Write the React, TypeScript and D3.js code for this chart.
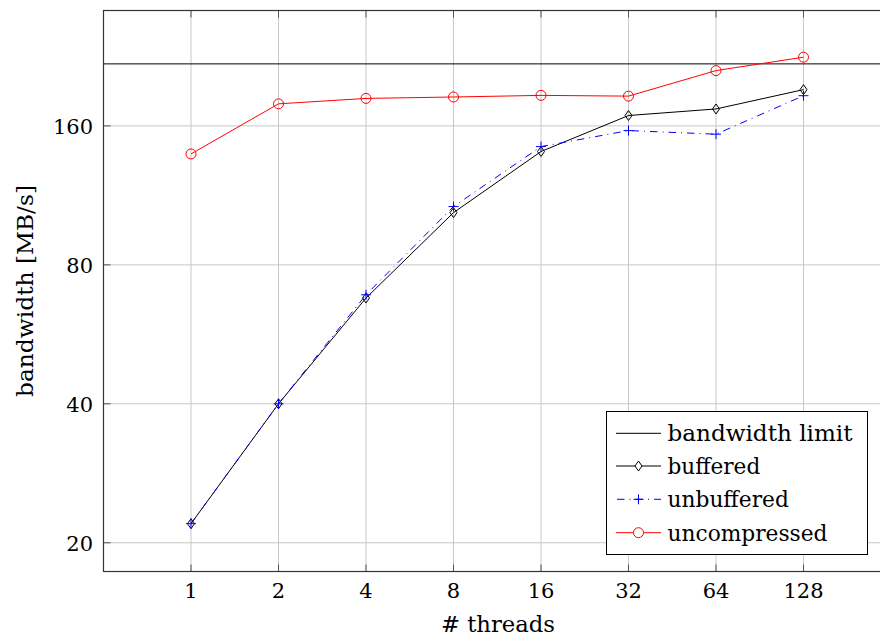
import React from "react";
import * as d3 from "d3";

const threads = [1, 2, 4, 8, 16, 32, 64, 128];
const xTickLabels = ["1", "2", "4", "8", "16", "32", "64", "128"];
const yTicks = [20, 40, 80, 160];
const bandwidthLimit = 218;
const buffered = [22.0, 40, 67.8, 103.8, 140.8, 168.5, 174.1, 191.7];
const unbuffered = [22.0, 40, 68.9, 107.0, 144.3, 156.3, 153.5, 186.0];
const uncompressed = [139.1, 178.6, 183.5, 184.8, 186.3, 185.6, 210.8, 225.4];

const W = 880;
const H = 638;
const FONT = "DejaVu Serif, Liberation Serif, serif";

export default function App() {
  const left = 103.5, right = 891, top = 10.5, bottom = 571.5;
  const x = d3.scaleLog().base(2).domain([0.5, 256]).range([left, right]);
  const y = d3.scaleLog().base(2).domain([17.33, 284.5]).range([bottom, top]);

  const line = d3
    .line<number>()
    .x((_, i) => x(threads[i]))
    .y((d) => y(d));

  const diamond = (cx: number, cy: number) =>
    `M${cx},${cy - 5}L${cx + 3.5},${cy}L${cx},${cy + 5}L${cx - 3.5},${cy}Z`;
  const plus = (cx: number, cy: number) =>
    `M${cx - 5},${cy}L${cx + 5},${cy}M${cx},${cy - 5}L${cx},${cy + 5}`;

  const legendX = 606.5, legendY = 411.5, legendW = 261, legendH = 143;
  const rows = [433.3, 466, 499.3, 532.7];
  const sx0 = 616, sx1 = 661, smid = 638.5, tx = 667.5;
  const ts = { fontFamily: FONT } as React.CSSProperties;

  return (
    <svg
      width={W}
      height={H}
      style={{ position: "absolute", left: 0, top: 0, background: "#fff" }}
    >
      <defs>
        <clipPath id="plotclip">
          <rect x={left} y={top} width={right - left} height={bottom - top} />
        </clipPath>
      </defs>
      {/* grid */}
      <g stroke="#c8c8c8" strokeWidth={1}>
        {threads.map((t) => (
          <line key={"gx" + t} x1={x(t)} x2={x(t)} y1={top} y2={bottom} />
        ))}
        {yTicks.map((v) => (
          <line key={"gy" + v} x1={left} x2={right} y1={y(v)} y2={y(v)} />
        ))}
      </g>
      {/* ticks */}
      <g stroke="#555" strokeWidth={1}>
        {threads.map((t) => (
          <g key={"tx" + t}>
            <line x1={x(t)} x2={x(t)} y1={bottom} y2={bottom - 7} />
            <line x1={x(t)} x2={x(t)} y1={top} y2={top + 7} />
          </g>
        ))}
        {yTicks.map((v) => (
          <g key={"ty" + v}>
            <line x1={left} x2={left + 7} y1={y(v)} y2={y(v)} />
            <line x1={right} x2={right - 7} y1={y(v)} y2={y(v)} />
          </g>
        ))}
      </g>
      <g clipPath="url(#plotclip)" fill="none">
        <line
          x1={left}
          x2={right}
          y1={y(bandwidthLimit)}
          y2={y(bandwidthLimit)}
          stroke="#000"
          strokeWidth={1}
        />
        <path d={line(uncompressed) || ""} stroke="#ff0000" strokeWidth={1} />
        {uncompressed.map((v, i) => (
          <circle key={"c" + i} cx={x(threads[i])} cy={y(v)} r={5} stroke="#ff0000" strokeWidth={1} />
        ))}
        <path d={line(buffered) || ""} stroke="#000" strokeWidth={1} />
        {buffered.map((v, i) => (
          <path key={"d" + i} d={diamond(x(threads[i]), y(v))} stroke="#000" strokeWidth={1} fill="none" />
        ))}
        <path
          d={line(unbuffered) || ""}
          stroke="#0000ff"
          strokeWidth={1}
          strokeDasharray="7.5 5 1 5"
        />
        {unbuffered.map((v, i) => (
          <path key={"p" + i} d={plus(x(threads[i]), y(v))} stroke="#0000ff" strokeWidth={1} />
        ))}
      </g>
      {/* frame */}
      <rect
        x={left}
        y={top}
        width={right - left}
        height={bottom - top}
        fill="none"
        stroke="#333"
        strokeWidth={1.2}
      />
      {/* tick labels */}
      <g fontSize={21} fill="#000">
        {threads.map((t, i) => (
          <text key={"lx" + t} style={ts} x={x(t)} y={598} textAnchor="middle">
            {xTickLabels[i]}
          </text>
        ))}
        {yTicks.map((v) => (
          <text key={"ly" + v} style={ts} x={93} y={y(v) + 8} textAnchor="end">
            {v}
          </text>
        ))}
      </g>
      {/* axis labels */}
      <text style={ts} x={498} y={632} fontSize={23} textAnchor="middle" textLength={114} lengthAdjust="spacingAndGlyphs">
        # threads
      </text>
      <text
        style={ts}
        transform={`translate(33,291) rotate(-90)`}
        fontSize={23}
        textAnchor="middle"
        textLength={212}
        lengthAdjust="spacingAndGlyphs"
      >
        bandwidth [MB/s]
      </text>
      {/* legend */}
      <rect x={legendX} y={legendY} width={legendW} height={legendH} fill="#fff" stroke="#000" strokeWidth={1} />
      <g fill="none" strokeWidth={1}>
        <line x1={sx0} x2={sx1} y1={rows[0]} y2={rows[0]} stroke="#000" />
        <line x1={sx0} x2={sx1} y1={rows[1]} y2={rows[1]} stroke="#000" />
        <path d={diamond(smid, rows[1])} stroke="#000" fill="#fff" />
        <line x1={sx0} x2={sx1} y1={rows[2]} y2={rows[2]} stroke="#0000ff" strokeDasharray="7.5 5 1 5" strokeDashoffset={-1} />
        <path d={plus(smid, rows[2])} stroke="#0000ff" />
        <line x1={sx0} x2={sx1} y1={rows[3]} y2={rows[3]} stroke="#ff0000" />
        <circle cx={smid} cy={rows[3]} r={5} stroke="#ff0000" fill="#fff" />
      </g>
      <g fontSize={23} fill="#000">
        <text style={ts} x={tx} y={rows[0] + 8} textLength={185} lengthAdjust="spacingAndGlyphs">bandwidth limit</text>
        <text style={ts} x={tx} y={rows[1] + 8} textLength={92.7} lengthAdjust="spacingAndGlyphs">buffered</text>
        <text style={ts} x={tx} y={rows[2] + 8} textLength={121.3} lengthAdjust="spacingAndGlyphs">unbuffered</text>
        <text style={ts} x={tx} y={rows[3] + 8} textLength={160} lengthAdjust="spacingAndGlyphs">uncompressed</text>
      </g>
    </svg>
  );
}
